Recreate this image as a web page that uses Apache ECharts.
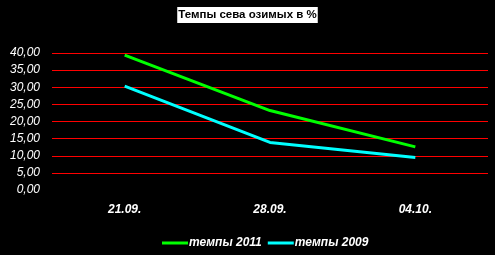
<!DOCTYPE html>
<html><head><meta charset="utf-8">
<script src="https://cdn.jsdelivr.net/npm/echarts@6/dist/echarts.min.js"></script>
<style>html,body{margin:0;padding:0;background:#000;}#c{width:495px;height:255px;}</style>
</head><body><div id="c"></div>
<script>
const categories = ['21.09.', '28.09.', '04.10.'];
const series2011 = [39.4, 23.2, 12.6];
const series2009 = [30.3, 13.9, 9.5];
const seriesNames = ['темпы 2011', 'темпы 2009'];
const titleText = 'Темпы сева озимых в %';

const chart = echarts.init(document.getElementById('c'));
chart.setOption({
  backgroundColor: '#000',
  animation: false,
  title: {
    text: titleText, left: 'center', top: 7,
    backgroundColor: '#fff', padding: [2, 1],
    textStyle: { color: '#000', fontFamily: 'Liberation Sans', fontWeight: 'bold', fontSize: 11.5 }
  },
  legend: {
    data: seriesNames, left: 157, top: 232, itemWidth: 26, itemHeight: 3, itemGap: 6,
    icon: 'rect',
    textStyle: { color: '#fff', fontFamily: 'Liberation Sans', fontWeight: 'bold', fontStyle: 'italic', fontSize: 12, padding: [0,0,0,-4] }
  },
  grid: { left: 52, right: 7, top: 53, bottom: 65 },
  xAxis: {
    type: 'category', data: categories, boundaryGap: true,
    axisLine: { show: false }, axisTick: { show: false },
    splitLine: { show: false },
    axisLabel: { color: '#fff', fontFamily: 'Liberation Sans', fontWeight: 'bold', fontStyle: 'italic', fontSize: 12, margin: 14 }
  },
  yAxis: {
    type: 'value', min: 0, max: 40, interval: 5,
    axisLine: { show: false }, axisTick: { show: false },
    axisLabel: { color: '#fff', fontFamily: 'Liberation Sans', fontStyle: 'italic', fontSize: 12, margin: 12,
      formatter: v => v.toFixed(2).replace('.', ',') },
    splitLine: { show: true, showMinLine: false, showMaxLine: true, lineStyle: { color: '#ff0000', width: 1, opacity: 1 } }
  },
  series: [
    { name: seriesNames[0], type: 'line', data: series2011, symbol: 'none', color: '#00ff00', lineStyle: { width: 3, color: '#00ff00' } },
    { name: seriesNames[1], type: 'line', data: series2009, symbol: 'none', color: '#00ffff', lineStyle: { width: 3, color: '#00ffff' } }
  ]
});
</script></body></html>
